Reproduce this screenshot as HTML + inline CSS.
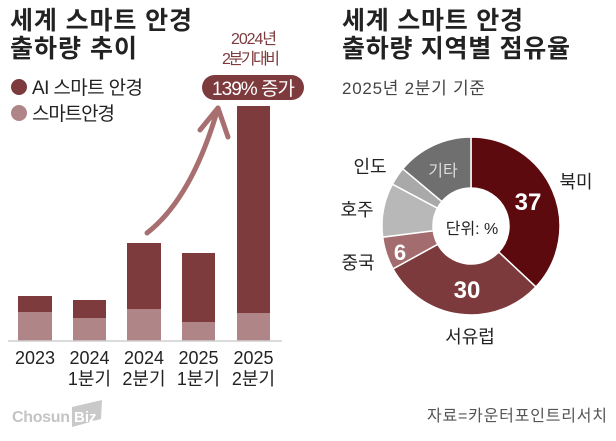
<!DOCTYPE html>
<html><head><meta charset="utf-8">
<style>
html,body{margin:0;padding:0;background:#fff;}
svg{display:block;}
text{font-family:"Liberation Sans","Noto Sans CJK KR",sans-serif;}
</style></head>
<body>
<svg width="616" height="441" viewBox="0 0 616 441" xmlns="http://www.w3.org/2000/svg">
<rect width="616" height="441" fill="#fff"/>

<!-- Left title -->
<text x="10" y="29" font-size="25" font-weight="bold" fill="#222" textLength="182" lengthAdjust="spacing">세계 스마트 안경</text>
<text x="10" y="57" font-size="25" font-weight="bold" fill="#222" textLength="127" lengthAdjust="spacing">출하량 추이</text>

<!-- Legend -->
<circle cx="19" cy="87" r="8" fill="#7d3b3e"/>
<text x="32" y="94" font-size="19" fill="#222" textLength="111" lengthAdjust="spacing">AI 스마트 안경</text>
<circle cx="19" cy="113" r="8" fill="#b08587"/>
<text x="32" y="120" font-size="19" fill="#222" textLength="83" lengthAdjust="spacing">스마트안경</text>

<!-- Annotation -->
<text x="231" y="44" font-size="16" fill="#7d3b3e" textLength="46" lengthAdjust="spacing">2024년</text>
<text x="222" y="64" font-size="16" fill="#7d3b3e" textLength="58" lengthAdjust="spacing">2분기대비</text>
<rect x="202" y="75" width="102" height="25" rx="12.5" fill="#7d3b3e"/>
<text x="212" y="95" font-size="19" fill="#fff" textLength="83" lengthAdjust="spacing">139% 증가</text>

<!-- Arrow -->
<path d="M147,233 Q192,198 218,108" fill="none" stroke="#a86f70" stroke-width="5" stroke-linecap="round"/>
<path d="M200,130 L218,108 L228,137" fill="none" stroke="#a86f70" stroke-width="5" stroke-linecap="round" stroke-linejoin="round"/>

<!-- Bars -->
<rect x="18" y="296" width="34" height="16" fill="#7d3b3e"/>
<rect x="18" y="312" width="34" height="29" fill="#b08587"/>
<rect x="73" y="300" width="33" height="18" fill="#7d3b3e"/>
<rect x="73" y="318" width="33" height="23" fill="#b08587"/>
<rect x="127" y="243" width="34" height="66" fill="#7d3b3e"/>
<rect x="127" y="309" width="34" height="32" fill="#b08587"/>
<rect x="182" y="253" width="33" height="69" fill="#7d3b3e"/>
<rect x="182" y="322" width="33" height="19" fill="#b08587"/>
<rect x="237" y="106" width="33" height="207" fill="#7d3b3e"/>
<rect x="237" y="313" width="33" height="28" fill="#b08587"/>
<line x1="8" y1="341" x2="282" y2="341" stroke="#cfcfcf" stroke-width="1.5"/>

<!-- X labels -->
<g font-size="18" fill="#222" text-anchor="middle">
<text x="35" y="364">2023</text>
<text x="89.5" y="364">2024</text>
<text x="89.5" y="385">1분기</text>
<text x="144" y="364">2024</text>
<text x="144" y="385">2분기</text>
<text x="198.5" y="364">2025</text>
<text x="198.5" y="385">1분기</text>
<text x="253.5" y="364">2025</text>
<text x="253.5" y="385">2분기</text>
</g>

<!-- Right title -->
<text x="342" y="29" font-size="25" font-weight="bold" fill="#222" textLength="181" lengthAdjust="spacing">세계 스마트 안경</text>
<text x="342" y="57" font-size="25" font-weight="bold" fill="#222" textLength="228" lengthAdjust="spacing">출하량 지역별 점유율</text>
<text x="342" y="94" font-size="17" fill="#444" textLength="143" lengthAdjust="spacing">2025년 2분기 기준</text>

<!-- Donut -->
<g stroke="#fff" stroke-width="1.5">
<path d="M471,137 A89,89 0 0 1 535.88,286.92 L498.70,252.01 A38,38 0 0 0 471,188 Z" fill="#5c0a0d"/>
<path d="M535.88,286.92 A89,89 0 0 1 393.01,268.88 L437.70,244.31 A38,38 0 0 0 498.70,252.01 Z" fill="#7d3a3c"/>
<path d="M393.01,268.88 A89,89 0 0 1 382.70,237.15 L433.30,230.76 A38,38 0 0 0 437.70,244.31 Z" fill="#a36d6f"/>
<path d="M382.70,237.15 A89,89 0 0 1 392.42,184.21 L437.45,208.16 A38,38 0 0 0 433.30,230.76 Z" fill="#b8b8b8"/>
<path d="M392.42,184.21 A89,89 0 0 1 402.83,168.79 L441.89,201.57 A38,38 0 0 0 437.45,208.16 Z" fill="#a9a9a9"/>
<path d="M402.83,168.79 A89,89 0 0 1 471,137 L471,188 A38,38 0 0 0 441.89,201.57 Z" fill="#6f6f6f"/>
</g>

<text x="528" y="210" font-size="24" font-weight="bold" fill="#fff" text-anchor="middle">37</text>
<text x="467" y="298" font-size="24" font-weight="bold" fill="#fff" text-anchor="middle">30</text>
<text x="400" y="260" font-size="22" font-weight="bold" fill="#fff" text-anchor="middle">6</text>
<text x="443" y="176" font-size="16" fill="#ddd" text-anchor="middle">기타</text>
<text x="472" y="234" font-size="16" fill="#222" text-anchor="middle">단위: %</text>

<g font-size="18" fill="#222" text-anchor="middle">
<text x="576" y="188">북미</text>
<text x="470" y="343">서유럽</text>
<text x="358" y="269">중국</text>
<text x="357" y="216">호주</text>
<text x="370" y="173">인도</text>
</g>

<!-- Footer -->
<text x="12" y="422" font-size="16" font-weight="bold" fill="#c4c4c4" textLength="58" lengthAdjust="spacing">Chosun</text>
<polygon points="72,407 102,400 101,419 72,427" fill="#c9c9c9"/>
<text x="74" y="422" font-size="15" font-weight="bold" fill="#fff">Biz</text>
<text x="427" y="421" font-size="16" fill="#555" textLength="180" lengthAdjust="spacing">자료=카운터포인트리서치</text>
</svg>
</body></html>
